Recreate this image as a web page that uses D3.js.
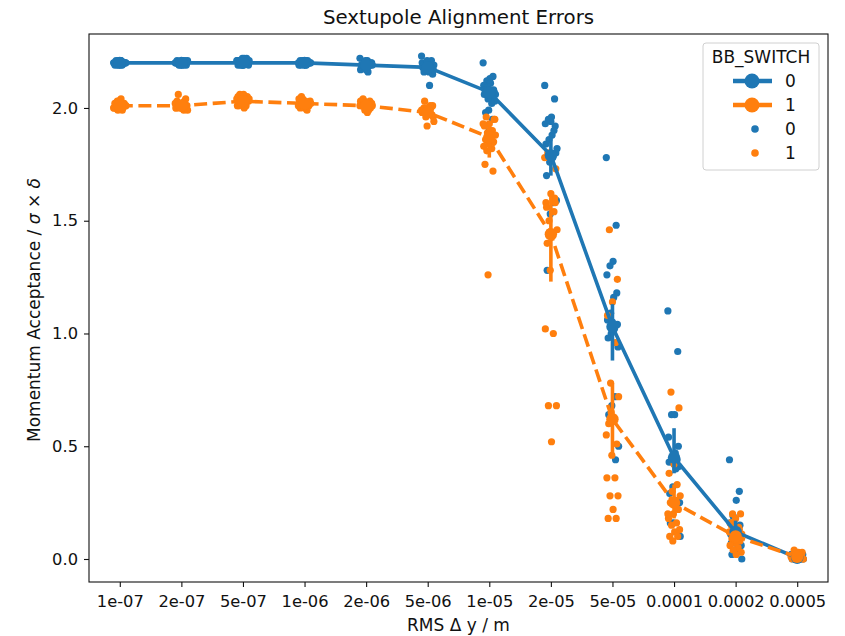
<!DOCTYPE html>
<html>
<head>
<meta charset="utf-8">
<script src="https://cdn.jsdelivr.net/npm/d3@7"></script>
<style>
  body { margin: 0; background: #fff; }
  svg { display: block; font-family: "DejaVu Sans", sans-serif; }
</style>
</head>
<body>
<svg id="chart" width="845" height="636"></svg>
<script>
// ---------------- data ----------------
const categories = ["1e-07","2e-07","5e-07","1e-06","2e-06","5e-06","1e-05","2e-05","5e-05","0.0001","0.0002","0.0005"];
const hueLevels = ["0", "1"];

// pointplot: mean and confidence interval per category
const mean0 = [2.20, 2.20, 2.20, 2.20, 2.19, 2.18, 2.07, 1.79, 1.03, 0.45, 0.12, 0.005];
const ciLow0  = [2.20, 2.20, 2.20, 2.20, 2.18, 2.16, 2.03, 1.70, 0.88, 0.38, 0.08, 0.00];
const ciHigh0 = [2.20, 2.20, 2.21, 2.20, 2.20, 2.19, 2.11, 1.88, 1.13, 0.58, 0.17, 0.01];
const mean1 = [2.01, 2.01, 2.03, 2.02, 2.01, 1.98, 1.87, 1.44, 0.62, 0.25, 0.10, 0.01];
const ciLow1  = [2.00, 2.00, 2.02, 2.01, 2.00, 1.97, 1.78, 1.23, 0.45, 0.18, 0.07, 0.00];
const ciHigh1 = [2.02, 2.02, 2.04, 2.03, 2.02, 1.99, 1.93, 1.62, 0.78, 0.33, 0.13, 0.02];

// stripplot: individual runs, BB_SWITCH = 0
const strip0 = [
  [2.20,2.20,2.21,2.19,2.20,2.20,2.21,2.20,2.19,2.20,2.20,2.21,2.20,2.20,2.19,2.20,2.21,2.20,2.20,2.20],
  [2.20,2.21,2.20,2.19,2.20,2.20,2.21,2.20,2.20,2.19,2.20,2.20,2.21,2.20,2.19,2.20,2.20,2.21,2.20,2.20],
  [2.21,2.22,2.20,2.19,2.21,2.20,2.22,2.20,2.19,2.21,2.20,2.20,2.21,2.19,2.20,2.22,2.20,2.21,2.20,2.19],
  [2.20,2.20,2.21,2.20,2.19,2.20,2.20,2.21,2.20,2.20,2.19,2.20,2.21,2.20,2.20,2.20,2.19,2.20,2.21,2.20],
  [2.22,2.19,2.18,2.20,2.17,2.19,2.21,2.18,2.19,2.20,2.16,2.19,2.18,2.20,2.19,2.21,2.18,2.19,2.20,2.17],
  [2.23,2.21,2.19,2.18,2.20,2.17,2.16,2.19,2.18,2.15,2.10,2.20,2.19,2.17,2.18,2.21,2.16,2.19,2.18,2.17],
  [2.20,2.14,2.13,2.12,2.10,2.08,2.11,2.09,2.06,2.07,2.05,2.04,2.08,2.03,2.02,1.99,1.98,2.06,1.95,1.90],
  [2.10,2.04,1.96,1.95,1.93,1.92,1.88,1.86,1.84,1.80,1.78,1.76,1.70,1.59,1.58,1.53,1.28,1.82,1.90,1.94],
  [1.78,1.48,1.32,1.30,1.26,1.18,1.16,1.09,1.06,1.04,1.02,1.00,0.98,0.94,0.72,0.68,0.64,0.50,0.44,1.05],
  [1.10,0.92,0.64,0.64,0.54,0.50,0.47,0.45,0.43,0.41,0.40,0.32,0.29,0.25,0.23,0.16,0.16,0.10,0.44,0.42],
  [0.44,0.30,0.26,0.19,0.16,0.15,0.14,0.12,0.11,0.10,0.09,0.08,0.07,0.06,0.05,0.04,0.02,0.00,0.13,0.10],
  [0.02,0.01,0.00,0.01,0.02,0.00,0.01,0.01,0.00,0.02,0.01,0.00,0.01,0.02,0.00,0.01,0.01,0.00,0.01,0.00]
];
// stripplot: individual runs, BB_SWITCH = 1
const strip1 = [
  [2.00,2.01,2.03,2.02,2.00,1.99,2.01,2.04,2.00,2.02,2.01,2.00,1.99,2.03,2.01,2.02,2.00,2.01,2.03,2.00],
  [2.06,2.01,2.02,2.00,2.03,2.01,1.99,2.00,2.02,2.04,2.01,2.00,1.99,2.02,2.01,2.00,2.03,2.01,2.00,2.02],
  [2.06,2.04,2.02,2.05,2.01,2.03,2.04,2.00,2.02,2.05,2.03,2.01,2.04,2.02,2.03,2.06,2.01,2.03,2.02,2.04],
  [2.05,2.02,2.00,2.03,2.01,2.04,2.02,2.00,2.03,2.01,2.02,2.04,1.99,2.02,2.03,2.01,2.00,2.02,2.03,2.01],
  [2.04,2.01,1.99,2.02,2.00,2.03,2.01,1.98,2.02,2.00,2.01,2.03,1.99,2.01,2.02,2.00,2.01,2.03,1.99,2.01],
  [2.03,2.01,1.99,1.98,2.00,1.96,1.94,1.99,2.00,1.97,1.92,1.98,2.01,1.99,1.96,2.00,1.98,1.97,2.00,1.99],
  [1.96,1.95,1.93,1.92,1.90,1.89,1.88,1.87,1.86,1.85,1.84,1.83,1.82,1.81,1.95,1.90,1.75,1.72,1.26,1.93],
  [1.80,1.73,1.62,1.58,1.54,1.50,1.46,1.44,1.40,1.58,1.28,1.02,1.00,0.68,0.68,0.52,1.56,1.60,1.80,1.78],
  [1.46,1.24,1.14,1.08,0.96,0.78,0.72,0.62,0.60,0.51,0.46,0.36,0.36,0.28,0.28,0.22,0.18,0.18,0.65,0.55],
  [0.74,0.67,0.42,0.38,0.33,0.30,0.28,0.26,0.25,0.22,0.20,0.18,0.16,0.15,0.13,0.12,0.10,0.10,0.08,0.20],
  [0.20,0.20,0.18,0.16,0.14,0.12,0.11,0.10,0.09,0.08,0.07,0.06,0.05,0.04,0.03,0.02,0.15,0.13,0.10,0.12],
  [0.04,0.03,0.01,0.00,0.02,0.01,0.00,0.03,0.01,0.02,0.00,0.01,0.02,0.01,0.00,0.01,0.02,0.01,0.00,0.01]
];
const yTicks = [0.0, 0.5, 1.0, 1.5, 2.0];

// ---------------- layout ----------------
const colors = ["#1f77b4", "#ff7f0e"];
const textColor = "#111";
const plot = { left: 89, right: 828, top: 34, bottom: 582 };
const svg = d3.select("#chart");
const tickFont = 16.3;
const labelFont = 17;

const x = d3.scalePoint().domain(categories).range([plot.left, plot.right]).padding(0.5);
const y = d3.scaleLinear().domain([-0.102, 2.328]).range([plot.bottom, plot.top]);
const step = x.step();

// deterministic jitter offsets (in category widths, within +/-0.1)
function jitter(i, s) {
  const k = s === 0 ? (i * 37) % 21 : (i * 13 + 5) % 21;
  return (k - 10) / 10 * 0.1 * step;
}

// ---------------- strip points ----------------
const strips = [strip0, strip1];
strips.forEach((strip, s) => {
  const pts = [];
  strip.forEach((vals, ci) => vals.forEach((v, i) => pts.push({ c: categories[ci], v, i })));
  svg.append("g").selectAll("circle").data(pts).join("circle")
    .attr("cx", d => x(d.c) + jitter(d.i, s))
    .attr("cy", d => y(d.v))
    .attr("r", 3.6)
    .attr("fill", colors[s]);
});

// ---------------- pointplot ----------------
const series = [
  { mean: mean0, lo: ciLow0, hi: ciHigh0, dash: null },
  { mean: mean1, lo: ciLow1, hi: ciHigh1, dash: "13,5.6" }
];
const lineW = 3.6;
series.forEach((ser, s) => {
  const g = svg.append("g");
  g.selectAll("line.ci").data(categories).join("line")
    .attr("x1", c => x(c)).attr("x2", c => x(c))
    .attr("y1", (c, i) => y(ser.lo[i])).attr("y2", (c, i) => y(ser.hi[i]))
    .attr("stroke", colors[s]).attr("stroke-width", lineW);
  const line = d3.line().x((d, i) => x(categories[i])).y(d => y(d));
  g.append("path").datum(ser.mean)
    .attr("d", line)
    .attr("fill", "none")
    .attr("stroke", colors[s])
    .attr("stroke-width", lineW)
    .attr("stroke-dasharray", ser.dash);
});
series.forEach((ser, s) => {
  svg.append("g").selectAll("circle").data(ser.mean).join("circle")
    .attr("cx", (d, i) => x(categories[i]))
    .attr("cy", d => y(d))
    .attr("r", 6.2)
    .attr("fill", colors[s]);
});

// ---------------- axes ----------------
const xAxis = d3.axisBottom(x).tickSize(5).tickPadding(8);
const gx = svg.append("g").attr("transform", `translate(0,${plot.bottom})`).call(xAxis);
gx.select(".domain").remove();
gx.selectAll("text").attr("font-size", tickFont).attr("font-family", "DejaVu Sans").attr("fill", textColor);
gx.selectAll("line").attr("stroke", textColor).attr("stroke-width", 1.1);

const yAxis = d3.axisLeft(y).tickValues(yTicks).tickFormat(d3.format(".1f")).tickSize(5).tickPadding(6);
const gy = svg.append("g").attr("transform", `translate(${plot.left},0)`).call(yAxis);
gy.select(".domain").remove();
gy.selectAll("text").attr("font-size", tickFont).attr("font-family", "DejaVu Sans").attr("fill", textColor);
gy.selectAll("line").attr("stroke", textColor).attr("stroke-width", 1.1);

// frame
svg.append("rect")
  .attr("x", plot.left).attr("y", plot.top)
  .attr("width", plot.right - plot.left).attr("height", plot.bottom - plot.top)
  .attr("fill", "none").attr("stroke", textColor).attr("stroke-width", 1.1);

// ---------------- labels ----------------
const cx = (plot.left + plot.right) / 2;
svg.append("text").attr("x", cx).attr("y", 24)
  .attr("text-anchor", "middle").attr("font-size", 19.8).attr("fill", textColor)
  .text("Sextupole Alignment Errors");

svg.append("text").attr("x", cx).attr("y", 631)
  .attr("text-anchor", "middle").attr("font-size", labelFont).attr("fill", textColor)
  .text("RMS Δ y / m");

const yl = svg.append("text")
  .attr("transform", `translate(40,${(plot.top + plot.bottom) / 2 + 2}) rotate(-90)`)
  .attr("text-anchor", "middle").attr("font-size", labelFont).attr("fill", textColor);
yl.append("tspan").text("Momentum Acceptance / ");
yl.append("tspan").attr("font-style", "italic").text("σ");
yl.append("tspan").text(" × ");
yl.append("tspan").attr("font-style", "italic").text("δ");

// ---------------- legend ----------------
const lg = svg.append("g");
const lx = 703, ly = 43, lw = 116, lh = 127;
lg.append("rect").attr("x", lx).attr("y", ly).attr("width", lw).attr("height", lh)
  .attr("rx", 3).attr("fill", "#fff").attr("fill-opacity", 0.8)
  .attr("stroke", "#d0d0d0").attr("stroke-width", 1);
lg.append("text").attr("x", lx + lw / 2).attr("y", ly + 20)
  .attr("text-anchor", "middle").attr("font-size", labelFont).attr("fill", textColor).text("BB_SWITCH");
const rowY = [81, 105, 129, 153];
hueLevels.forEach((h, s) => {
  const yy = rowY[s];
  lg.append("line").attr("x1", 733).attr("x2", 772).attr("y1", yy).attr("y2", yy)
    .attr("stroke", colors[s]).attr("stroke-width", 4.5);
  lg.append("circle").attr("cx", 752).attr("cy", yy).attr("r", 7.5).attr("fill", colors[s]);
  lg.append("text").attr("x", 785).attr("y", yy + 6).attr("font-size", labelFont).attr("fill", textColor).text(h);
});
hueLevels.forEach((h, s) => {
  const yy = rowY[s + 2];
  lg.append("circle").attr("cx", 755).attr("cy", yy).attr("r", 3.8).attr("fill", colors[s]);
  lg.append("text").attr("x", 785).attr("y", yy + 6).attr("font-size", labelFont).attr("fill", textColor).text(h);
});
</script>
</body>
</html>
